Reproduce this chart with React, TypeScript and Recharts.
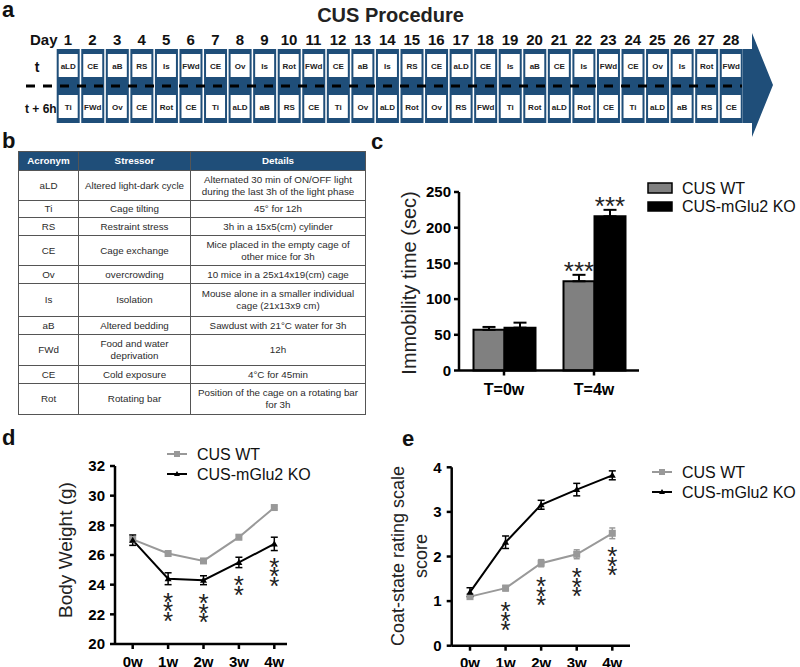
import React from 'react';
import { BarChart, Bar, LineChart, Line, XAxis, YAxis, ErrorBar, LabelList, Legend } from 'recharts';

const FONT = '"Liberation Sans", Arial, Helvetica, sans-serif';
const NAVY = '#1f4e79';
const GREY = '#999999';
const BAR_GREY = '#808080';

// a: 28 day schedule, stressor at t and at t + 6h
const days = ['1', '2', '3', '4', '5', '6', '7', '8', '9', '10', '11', '12', '13', '14',
  '15', '16', '17', '18', '19', '20', '21', '22', '23', '24', '25', '26', '27', '28'];
const stressAtT = ['aLD', 'CE', 'aB', 'RS', 'Is', 'FWd', 'CE', 'Ov', 'Is', 'Rot', 'FWd', 'CE', 'aB', 'Is',
  'RS', 'CE', 'aLD', 'CE', 'Is', 'aB', 'CE', 'Is', 'FWd', 'CE', 'Ov', 'Is', 'Rot', 'FWd'];
const stressAtT6 = ['Ti', 'FWd', 'Ov', 'CE', 'Rot', 'CE', 'Ti', 'aLD', 'aB', 'RS', 'CE', 'Ti', 'Ov', 'aLD',
  'Rot', 'Ov', 'RS', 'FWd', 'Ti', 'Rot', 'aLD', 'Rot', 'CE', 'Ti', 'aLD', 'aB', 'RS', 'CE'];

// b: stressor table
const tableHead = ['Acronym', 'Stressor', 'Details'];
const acronyms = ['aLD', 'Ti', 'RS', 'CE', 'Ov', 'Is', 'aB', 'FWd', 'CE', 'Rot'];
const stressors = ['Altered light-dark cycle', 'Cage tilting', 'Restraint stress', 'Cage exchange', 'overcrowding',
  'Isolation', 'Altered bedding', 'Food and water\ndeprivation', 'Cold exposure', 'Rotating bar'];
const details = [
  'Alternated 30 min of ON/OFF light\nduring the last 3h of the light phase',
  '45° for 12h',
  '3h in a 15x5(cm) cylinder',
  'Mice placed in the empty cage of\nother mice for 3h',
  '10 mice in a 25x14x19(cm) cage',
  'Mouse alone in a smaller individual\ncage (21x13x9 cm)',
  'Sawdust with 21°C water for 3h',
  '12h',
  '4°C for 45min',
  'Position of the cage on a rotating bar\nfor 3h',
];
const rowHeights = [30, 17, 18, 30, 18, 33, 18, 31, 18, 31];

const seriesNames = ['CUS WT', 'CUS-mGlu2 KO'];

// c: forced swim immobility
const fstGroups = ['T=0w', 'T=4w'];
const fstWT = [57, 125];
const fstWTSem = [4, 9];
const fstKO = [60, 216];
const fstKOSem = [7, 9];
const fstWTStars = ['', '***'];
const fstKOStars = ['', '***'];

// d: body weight
const weeks = ['0w', '1w', '2w', '3w', '4w'];
const bwWT = [27.05, 26.1, 25.6, 27.2, 29.2];
const bwWTSem = [0.15, 0.08, 0.08, 0.15, 0.1];
const bwKO = [27.0, 24.4, 24.3, 25.5, 26.75];
const bwKOSem = [0.35, 0.4, 0.3, 0.35, 0.45];
const bwStars = ['', '***', '***', '**', '***'];

// e: coat state
const coatWT = [1.1, 1.29, 1.85, 2.05, 2.52];
const coatWTSem = [0.05, 0.06, 0.08, 0.1, 0.12];
const coatKO = [1.2, 2.32, 3.16, 3.5, 3.82];
const coatKOSem = [0.1, 0.14, 0.1, 0.14, 0.1];
const coatStars = ['', '***', '***', '***', '***'];

const scheduleData = days.map((d, i) => ({ day: d, slot: 1, t: stressAtT[i], t6: stressAtT6[i] }));
const fstData = fstGroups.map((g, i) => ({
  group: g, wt: fstWT[i], ko: fstKO[i],
  wtErr: [0, fstWTSem[i]], koErr: [0, fstKOSem[i]],
  wtStars: fstWTStars[i], koStars: fstKOStars[i],
}));
const bwData = weeks.map((w, i) => ({ week: w, wt: bwWT[i], ko: bwKO[i], wtErr: bwWTSem[i], koErr: bwKOSem[i], stars: bwStars[i] }));
const coatData = weeks.map((w, i) => ({ week: w, wt: coatWT[i], ko: coatKO[i], wtErr: coatWTSem[i], koErr: coatKOSem[i], stars: coatStars[i] }));

const axisStyle = { stroke: '#000', strokeWidth: 2.5 };

const DayCell = (props: any) => {
  const { x, y, width, height, payload } = props;
  const cx = x + width / 2;
  return (
    <g>
      <rect x={x} y={y} width={width} height={height} fill={NAVY} />
      <rect x={x + 2} y={y + 5} width={width - 4} height={23} fill="#fff" />
      <rect x={x + 2} y={y + 46} width={width - 4} height={23} fill="#fff" />
      <text x={cx} y={y + 19.5} textAnchor="middle" fontSize={8} fontWeight="bold" fill="#222" fontFamily={FONT}>{payload.t}</text>
      <text x={cx} y={y + 60.5} textAnchor="middle" fontSize={8} fontWeight="bold" fill="#222" fontFamily={FONT}>{payload.t6}</text>
    </g>
  );
};

const DayTick = (props: any) => (
  <text x={props.x} y={45} textAnchor="middle" fontSize={15} fontWeight="bold" fill="#111" fontFamily={FONT}>
    {props.payload.value}
  </text>
);

// stars above a bar, sitting just over its error bar
const barStars = (sems: number[], vals: number[]) => (props: any) => {
  const vb = props.viewBox || props;
  const { index, value } = props;
  if (!value) return null;
  const perUnit = vb.height / vals[index];
  const errTop = vb.y - sems[index] * perUnit;
  return (
    <text x={vb.x + vb.width / 2} y={errTop + 5} textAnchor="middle" fontSize={26} fill="#222" fontFamily={FONT}>
      {value}
    </text>
  );
};

// stars stacked vertically below a point
const stackStars = (props: any) => {
  const vb = props.viewBox || props;
  const s: string = props.value || '';
  if (!s) return null;
  return (
    <text x={vb.x} y={vb.y + 32} textAnchor="middle" fontSize={26} fill="#222" fontFamily={FONT}>
      {s.split('').map((c, i) => (
        <tspan key={i} x={vb.x} dy={i === 0 ? 0 : 9.5}>{c}</tspan>
      ))}
    </text>
  );
};

const SquareDot = (props: any) => {
  const { cx, cy, index } = props;
  return <rect key={`sq${index}`} x={cx - 3.5} y={cy - 3.5} width={7} height={7} fill={GREY} />;
};
const TriDot = (props: any) => {
  const { cx, cy, index } = props;
  return <path key={`tr${index}`} d={`M${cx},${cy - 3.5} L${cx + 3.5},${cy + 2.5} L${cx - 3.5},${cy + 2.5} Z`} fill="#000" />;
};

const BarLegend = () => (
  <svg width={150} height={40} style={{ fontFamily: FONT }}>
    <rect x={1} y={3} width={24} height={10} fill={BAR_GREY} stroke="#000" strokeWidth={1.5} />
    <text x={35} y={14} fontSize={16} fill="#111">{seriesNames[0]}</text>
    <rect x={1} y={22} width={24} height={9} fill="#000" stroke="#000" strokeWidth={1.5} />
    <text x={35} y={32} fontSize={16} fill="#111">{seriesNames[1]}</text>
  </svg>
);

const LineLegend = () => (
  <svg width={160} height={44} style={{ fontFamily: FONT }}>
    <line x1={7} y1={12} x2={27} y2={12} stroke={GREY} strokeWidth={2} />
    <rect x={14} y={9} width={6} height={6} fill={GREY} />
    <text x={37} y={18} fontSize={16} fill="#111">{seriesNames[0]}</text>
    <line x1={7} y1={32} x2={27} y2={32} stroke="#000" strokeWidth={2} />
    <path d="M17,29 L20,34 L14,34 Z" fill="#000" />
    <text x={37} y={38} fontSize={16} fill="#111">{seriesNames[1]}</text>
  </svg>
);

const tickFont = { fill: '#000', fontSize: 15, fontWeight: 'bold', fontFamily: FONT };

export default function App() {
  const cell: React.CSSProperties = {
    border: '1px solid #555', textAlign: 'center', verticalAlign: 'middle', padding: '0 1px',
    whiteSpace: 'pre-line', lineHeight: '12px', color: '#2b2b2b',
  };
  return (
    <div style={{ position: 'absolute', left: 0, top: 0, width: 800, height: 667, background: '#fff', fontFamily: FONT, overflow: 'hidden' }}>
      {/* a */}
      <div style={{ position: 'absolute', left: 0, top: 0 }}>
        <BarChart width={800} height={135} data={scheduleData} margin={{ top: 29, right: 56.7, bottom: 12, left: 55.7 }} barCategoryGap={1}>
          <XAxis dataKey="day" orientation="top" height={20} axisLine={false} tickLine={false} interval={0} tick={DayTick} />
          <YAxis hide domain={[0, 1]} />
          <Bar dataKey="slot" shape={DayCell} isAnimationActive={false} />
        </BarChart>
      </div>

      {/* b */}
      <table style={{ position: 'absolute', left: 18, top: 151, width: 347, borderCollapse: 'collapse', tableLayout: 'fixed', fontSize: 9.8, fontFamily: FONT }}>
        <colgroup>
          <col style={{ width: 60 }} />
          <col style={{ width: 112 }} />
          <col style={{ width: 175 }} />
        </colgroup>
        <thead>
          <tr style={{ height: 19 }}>
            {tableHead.map((h) => (
              <th key={h} style={{ ...cell, background: NAVY, color: '#fff', fontWeight: 'bold' }}>{h}</th>
            ))}
          </tr>
        </thead>
        <tbody>
          {acronyms.map((a, i) => (
            <tr key={i} style={{ height: rowHeights[i] }}>
              <td style={cell}>{a}</td>
              <td style={cell}>{stressors[i]}</td>
              <td style={cell}>{details[i]}</td>
            </tr>
          ))}
        </tbody>
      </table>

      {/* c */}
      <div style={{ position: 'absolute', left: 370, top: 130 }}>
        <BarChart width={430} height={270} data={fstData} margin={{ top: 62, right: 161, bottom: 4.5, left: 29 }} barCategoryGap={14.5} barGap={0}>
          <XAxis dataKey="group" height={25} axisLine={axisStyle} tickLine={axisStyle} tickSize={5} tickMargin={8} tick={{ ...tickFont, fontSize: 16 }} />
          <YAxis width={60} domain={[0, 250]} ticks={[0, 50, 100, 150, 200, 250]} axisLine={axisStyle} tickLine={axisStyle} tickSize={5} tickMargin={3} tick={tickFont} />
          <Bar dataKey="wt" name={seriesNames[0]} fill={BAR_GREY} stroke="#000" strokeWidth={2} isAnimationActive={false}>
            <ErrorBar dataKey="wtErr" width={6.5} stroke="#000" strokeWidth={2} direction="y" />
            <LabelList dataKey="wtStars" content={barStars(fstWTSem, fstWT)} />
          </Bar>
          <Bar dataKey="ko" name={seriesNames[1]} fill="#000" stroke="#000" strokeWidth={2} isAnimationActive={false}>
            <ErrorBar dataKey="koErr" width={6.5} stroke="#000" strokeWidth={2} direction="y" />
            <LabelList dataKey="koStars" content={barStars(fstKOSem, fstKO)} />
          </Bar>
          <Legend layout="vertical" align="center" verticalAlign="middle" width={150} height={40}
            wrapperStyle={{ left: 277, top: 50 }} content={() => <BarLegend />} />
        </BarChart>
      </div>

      {/* d */}
      <div style={{ position: 'absolute', left: 0, top: 440 }}>
        <LineChart width={400} height={227} data={bwData} margin={{ top: 26, right: 113, bottom: 1, left: 55 }}>
          <XAxis dataKey="week" scale="point" padding={{ left: 17.7, right: 12.7 }} height={22} axisLine={axisStyle} tickLine={axisStyle} tickSize={5} tickMargin={7} tick={tickFont} />
          <YAxis width={60} domain={[20, 32]} ticks={[20, 22, 24, 26, 28, 30, 32]} axisLine={axisStyle} tickLine={axisStyle} tickSize={5} tickMargin={5} tick={tickFont} />
          <Line dataKey="wt" name={seriesNames[0]} stroke={GREY} strokeWidth={2} dot={SquareDot} isAnimationActive={false}>
            <ErrorBar dataKey="wtErr" width={3} stroke={GREY} strokeWidth={1.5} direction="y" />
          </Line>
          <Line dataKey="ko" name={seriesNames[1]} stroke="#000" strokeWidth={2} dot={TriDot} isAnimationActive={false}>
            <ErrorBar dataKey="koErr" width={3.5} stroke="#000" strokeWidth={1.5} direction="y" />
            <LabelList dataKey="stars" content={stackStars} />
          </Line>
          <Legend layout="vertical" align="center" verticalAlign="middle" width={160} height={44}
            wrapperStyle={{ left: 160, top: 2 }} content={() => <LineLegend />} />
        </LineChart>
      </div>

      {/* e */}
      <div style={{ position: 'absolute', left: 400, top: 440 }}>
        <LineChart width={400} height={227} data={coatData} margin={{ top: 27.3, right: 170, bottom: 0.3, left: 11.7 }}>
          <XAxis dataKey="week" scale="point" padding={{ left: 18.3, right: 17.7 }} height={21} axisLine={axisStyle} tickLine={axisStyle} tickSize={5} tickMargin={7} tick={tickFont} />
          <YAxis width={40} domain={[0, 4]} ticks={[0, 1, 2, 3, 4]} axisLine={axisStyle} tickLine={axisStyle} tickSize={5} tickMargin={5} tick={tickFont} />
          <Line dataKey="wt" name={seriesNames[0]} stroke={GREY} strokeWidth={2} dot={SquareDot} isAnimationActive={false}>
            <ErrorBar dataKey="wtErr" width={3} stroke={GREY} strokeWidth={1.5} direction="y" />
            <LabelList dataKey="stars" content={stackStars} />
          </Line>
          <Line dataKey="ko" name={seriesNames[1]} stroke="#000" strokeWidth={2} dot={TriDot} isAnimationActive={false}>
            <ErrorBar dataKey="koErr" width={3.5} stroke="#000" strokeWidth={1.5} direction="y" />
          </Line>
          <Legend layout="vertical" align="center" verticalAlign="middle" width={160} height={44}
            wrapperStyle={{ left: 245, top: 20 }} content={() => <LineLegend />} />
        </LineChart>
      </div>

      {/* labels, titles and decorations */}
      <svg width={800} height={667} style={{ position: 'absolute', left: 0, top: 0, pointerEvents: 'none', fontFamily: FONT }}>
        <line x1={26} y1={86} x2={742} y2={86} stroke="#000" strokeWidth={3} strokeDasharray="9 8" />
        <polygon points="743,49 752,49 752,33 773,85 752,137 752,123 743,123" fill={NAVY} />
        <text x={390.5} y={22} textAnchor="middle" fontSize={20} fontWeight="bold" fill="#222">CUS Procedure</text>
        <text x={30} y={45} fontSize={15} fontWeight="bold" fill="#111">Day</text>
        <text x={37} y={72} textAnchor="middle" fontSize={14} fontWeight="bold" fill="#111">t</text>
        <text x={25} y={113} fontSize={12} fontWeight="bold" fill="#111">t + 6h</text>

        <text x={2} y={17} fontSize={22} fontWeight="bold" fill="#111">a</text>
        <text x={2} y={148} fontSize={22} fontWeight="bold" fill="#111">b</text>
        <text x={371} y={149} fontSize={22} fontWeight="bold" fill="#111">c</text>
        <text x={2} y={445} fontSize={22} fontWeight="bold" fill="#111">d</text>
        <text x={402} y={446} fontSize={22} fontWeight="bold" fill="#111">e</text>

        <text transform="translate(409,283) rotate(-90)" textAnchor="middle" dominantBaseline="central" fontSize={20} fill="#222">Immobility time (sec)</text>
        <text transform="translate(65,550) rotate(-90)" textAnchor="middle" dominantBaseline="central" fontSize={19} fill="#222">Body Weight (g)</text>
        <text transform="translate(398,556) rotate(-90)" textAnchor="middle" dominantBaseline="central" fontSize={18} fill="#222">Coat-state rating scale</text>
        <text transform="translate(421,556) rotate(-90)" textAnchor="middle" dominantBaseline="central" fontSize={18} fill="#222">score</text>
      </svg>
    </div>
  );
}
